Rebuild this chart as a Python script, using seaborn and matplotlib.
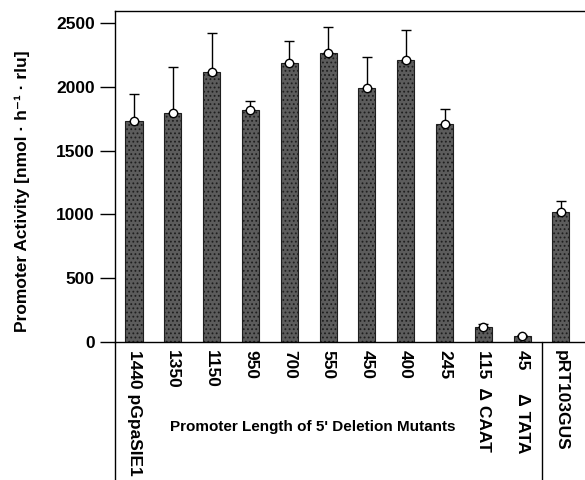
import numpy as np
import pandas as pd
import matplotlib
matplotlib.use("Agg")
import matplotlib.pyplot as plt
import matplotlib.transforms as mtransforms
import seaborn as sns

# values
labels = ["1440 pGpaSIE1", "1350", "1150", "950", "700", "550", "450", "400",
          "245", "115  \u0394 CAAT", "45     \u0394 TATA", "pRT103GUS"]
activity = [1734, 1792, 2113, 1818, 2189, 2267, 1993, 2207, 1708, 115, 50, 1019]
err_up = [209, 366, 311, 73, 167, 204, 238, 242, 120, 24, 6, 84]

sns.set_style("ticks")
plt.rcParams['font.family'] = ['Liberation Sans', 'DejaVu Sans']
plt.rcParams['font.weight'] = 'bold'
plt.rcParams['text.color'] = 'black'
plt.rcParams['axes.labelcolor'] = 'black'
plt.rcParams['xtick.color'] = 'black'
plt.rcParams['ytick.color'] = 'black'
plt.rcParams['hatch.linewidth'] = 0.8

df = pd.DataFrame({"mutant": labels, "activity": activity})

fig = plt.figure(figsize=(5.85, 4.8), dpi=100)
ax = fig.add_axes([115/585, 1-342/480, 470/585, 331/480])

sns.barplot(data=df, x="mutant", y="activity", color="#5c5c5c", width=0.44,
            edgecolor="black", linewidth=0.8, saturation=1, ax=ax)
for p in ax.patches:
    p.set_hatch("....")
    p.set_edgecolor("#1e1e1e")

xs = np.arange(len(labels))
ax.errorbar(xs, activity, yerr=[np.zeros(len(err_up)), err_up], fmt="none",
            ecolor="black", elinewidth=1, capsize=3.6, capthick=1)
ax.plot(xs, activity, "o", mfc="white", mec="black", ms=6, mew=1, ls="none")

ax.set_ylim(0, 2594)
ax.set_xlim(-0.49, 11.62)
ax.set_yticks([0, 500, 1000, 1500, 2000, 2500])
ax.tick_params(axis="y", length=11, width=1, labelsize=12.5, direction="out")
ax.tick_params(axis="x", length=0, labelsize=12.5, pad=6)
for t in ax.get_yticklabels():
    t.set_fontweight("bold")
ax.set_xticks(xs)
ax.set_xticklabels(labels, rotation=-90, va="top", ha="center", fontweight="bold")

ax.set_xlabel("")
ax.set_ylabel("Promoter Activity [nmol \u00b7 h\u207b\u00b9 \u00b7 rlu]",
              fontsize=12.5, fontweight="bold")
ax.yaxis.set_label_coords(-0.18, 0.456)

for s in ax.spines.values():
    s.set_linewidth(1)
    s.set_color("black")
ax.spines["right"].set_visible(False)

# extend left axis and divider below the plot
tr = mtransforms.blended_transform_factory(ax.transData, ax.transAxes)
ax.plot([-0.49, -0.49], [0, -0.42], color="black", lw=1, clip_on=False, transform=tr)
ax.plot([10.5, 10.5], [0, -0.42], color="black", lw=1, clip_on=False, transform=tr)
ax.text(4.6, -0.257, "Promoter Length of 5' Deletion Mutants", fontsize=11,
        fontweight="bold", ha="center", va="center", transform=tr)

fig.savefig("out.png", dpi=100)
